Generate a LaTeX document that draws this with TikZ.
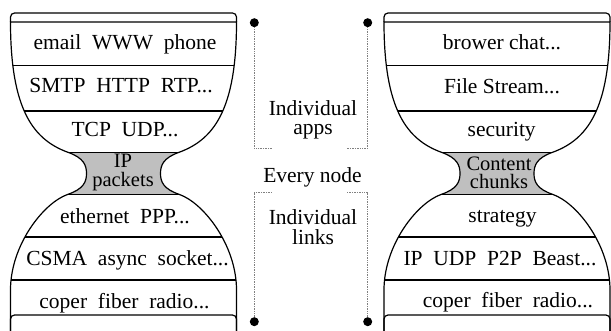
\documentclass[tikz,border=0pt]{standalone}
\usepackage{fontspec}
\setmainfont{Liberation Serif}
\usepackage{tikz}
\usetikzlibrary{positioning}
\tikzset{glass/.style={draw, line width=1.2pt}}
\tikzset{neck/.style={fill=black!25}}
\tikzset{layer/.style={font=\fontsize{21.5}{17}\selectfont, inner sep=0pt, anchor=base}}
\tikzset{waist/.style={font=\fontsize{20.5}{18.5}\selectfont, inner sep=0pt, align=center}}
\tikzset{remark/.style={font=\fontsize{21.5}{19.5}\selectfont, inner sep=0pt, align=center}}
\tikzset{dotrule/.style={draw=black!50, densely dotted, line width=0.7pt}}
\tikzset{blob/.style={circle, fill, inner sep=0pt, minimum size=9pt}}
% outline of one hourglass, centred on x=0
\newcommand{\glass}{(-113,22) -- (113,22)
  .. controls (113,110) and (90,140) .. (55,152.5)
  .. controls (40,158) and (37,165) .. (37,173.5)
  .. controls (37,182) and (40,189) .. (56,194.5)
  .. controls (80,203) and (113,245) .. (113,290) -- (113,345)
  -- (-113,345) -- (-113,290)
  .. controls (-113,245) and (-80,203) .. (-56,194.5)
  .. controls (-40,189) and (-37,182) .. (-37,173.5)
  .. controls (-37,165) and (-40,158) .. (-55,152.5)
  .. controls (-90,140) and (-113,110) .. (-113,22) -- cycle}

\begin{document}
\begin{tikzpicture}[x=1pt, y=-1pt]
    \useasboundingbox (0,0) rectangle (611,331);
    \clip (0,0) rectangle (611,331);

    \foreach \cx in {123.5, 497} {
        \begin{scope}[shift={(\cx,0)}]
            \begin{scope}
                \clip \glass;
                \fill[neck] (-120,152.5) rectangle (120,194.5);
                \foreach \y in {65.5, 111, 152.5, 194.5, 237, 280} {
                    \draw[glass] (-120,\y) -- (120,\y);
                }
            \end{scope}
            \draw[glass] \glass;
            \draw[glass, rounded corners=4] (-113,22) |- (113,13) -- (113,22);
            \draw[glass, rounded corners=4] (-113,345) |- (113,315) -- (113,345);
        \end{scope}
    }

    % left stack
    \node[layer] (email) at (125,50) {email~~WWW~~phone};
    \node[layer] (smtp) at (121,92.7) {SMTP~~HTTP~~RTP...};
    \node[layer] (tcp) at (125,136.7) {TCP~~UDP...};
    \node[waist] (ip) at (123,172.5) {IP\\packets};
    \node[layer] (eth) at (125,223.3) {ethernet~~PPP...};
    \node[layer] (csma) at (127.5,266) {CSMA~~async~~socket...};
    \node[layer] (wireL) at (124.5,308.3) {coper~~fiber~~radio...};

    % right stack
    \node[layer] (brower) at (502,50) {brower chat...};
    \node[layer] (file) at (502,93.3) {File Stream...};
    \node[layer] (sec) at (501.7,136.7) {security};
    \node[waist] (chunk) at (499,173) {Content\\chunks};
    \node[layer] (strat) at (502.5,223) {strategy};
    \node[layer] (p2p) at (500,266) {IP~~UDP~~P2P~~Beast...};
    \node[layer] (wireR) at (508,308) {coper~~fiber~~radio...};

    % middle brackets
    \node[blob] (tl) at (254.3,22.7) {};
    \node[blob] (tr) at (367.7,22.7) {};
    \node[blob] (bl) at (254.3,321.7) {};
    \node[blob] (br) at (367.7,321.7) {};
    \coordinate (appsL) at (272.7,148);
    \coordinate (appsR) at (347,148);
    \coordinate (linksL) at (272,192.7);
    \coordinate (linksR) at (347,192.7);
    \draw[dotrule] (tl) |- (appsL);
    \draw[dotrule] (tr) |- (appsR);
    \draw[dotrule] (bl) |- (linksL);
    \draw[dotrule] (br) |- (linksR);

    \node[remark] (apps) at (313,120) {Individual\\apps};
    \node[layer] (every) at (312.5,182.7) {Every node};
    \node[remark] (links) at (313,227) {Individual\\links};
\end{tikzpicture}
\end{document}
